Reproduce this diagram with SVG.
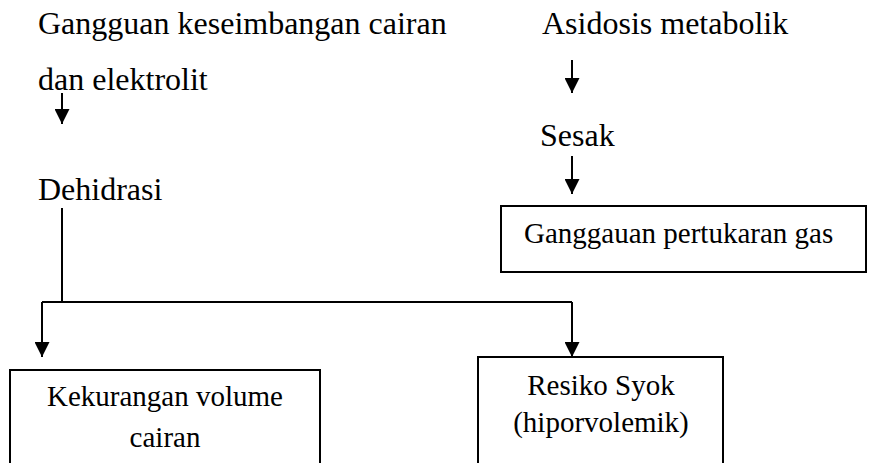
<svg xmlns="http://www.w3.org/2000/svg" width="870" height="463" viewBox="0 0 870 463">
<defs>
  <marker id="ah" viewBox="0 0 10 10" refX="10" refY="5" markerWidth="15" markerHeight="15" markerUnits="userSpaceOnUse" orient="auto">
    <path d="M0,0 L10,5 L0,10 Z" fill="#000"/>
  </marker>
</defs>
<rect width="870" height="463" fill="#fff"/>
<g id="n-gangguan" font-family="Times New Roman, Liberation Serif, serif" font-size="32"><text x="38" y="34">Gangguan keseimbangan cairan</text><text x="38" y="90">dan elektrolit</text></g>
<g id="n-dehidrasi" font-family="Times New Roman, Liberation Serif, serif" font-size="32"><text x="38" y="200">Dehidrasi</text></g>
<g id="n-asidosis" font-family="Times New Roman, Liberation Serif, serif" font-size="32"><text x="542" y="34">Asidosis metabolik</text></g>
<g id="n-sesak" font-family="Times New Roman, Liberation Serif, serif" font-size="32"><text x="540" y="146">Sesak</text></g>
<g id="n-gas" font-family="Times New Roman, Liberation Serif, serif" font-size="29"><rect x="501" y="206" width="365" height="66" fill="#fff" stroke="#000" stroke-width="2"/><text x="524" y="243">Ganggauan pertukaran gas</text></g>
<g id="n-volume" font-family="Times New Roman, Liberation Serif, serif" font-size="29"><rect x="10" y="370" width="310" height="110" fill="#fff" stroke="#000" stroke-width="2"/><text x="165" y="406" text-anchor="middle">Kekurangan volume</text><text x="165" y="447" text-anchor="middle">cairan</text></g>
<g id="n-syok" font-family="Times New Roman, Liberation Serif, serif" font-size="29"><rect x="478" y="357" width="245" height="120" fill="#fff" stroke="#000" stroke-width="2"/><text x="601" y="395" text-anchor="middle">Resiko Syok</text><text x="601" y="432" text-anchor="middle">(hiporvolemik)</text></g>
<g id="connectors" fill="none" stroke="#000" stroke-width="2">
  <path d="M62,93 V124" marker-end="url(#ah)"/>
  <path d="M572,60 V93" marker-end="url(#ah)"/>
  <path d="M572,156 V194" marker-end="url(#ah)"/>
  <path d="M62,208 V302"/>
  <path d="M42,302 H572"/>
  <path d="M42,302 V357" marker-end="url(#ah)"/>
  <path d="M572,302 V357" marker-end="url(#ah)"/>
</g>
</svg>
